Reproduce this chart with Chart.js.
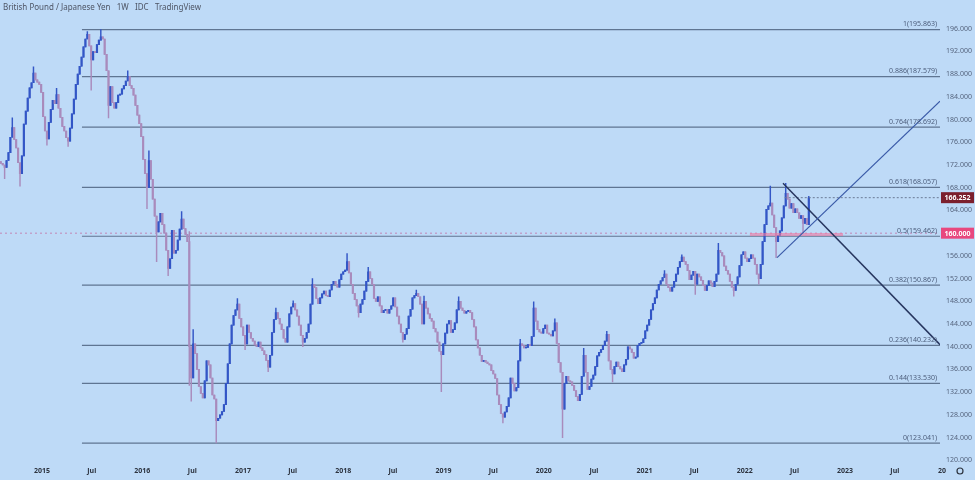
<!DOCTYPE html>
<html>
<head>
<meta charset="utf-8">
<script src="https://cdn.jsdelivr.net/npm/chart.js@4.4.0/dist/chart.umd.min.js"></script>
<style>
  html, body { margin: 0; padding: 0; background: #bedaf7; }
  #wrap { position: relative; width: 975px; height: 480px; background: #bedaf7; overflow: hidden; }
  #title {
    position: absolute; left: 3px; top: 1px;
    font: 8px "Noto Sans", sans-serif; color: #4e5565; white-space: pre;
  }
</style>
</head>
<body>
<div id="wrap">
  <canvas id="chart"></canvas>
  <div id="title">British Pound / Japanese Yen   1W   IDC   TradingView</div>
</div>
<script>
// GBP/JPY weekly, first bar = week of 2014-08-04
const START = Date.UTC(2014, 7, 4);
const firstOpen = 172.6;

// weekly closes (one per week)
const closes = [
  172.3, 172.0, 171.6, 172.8, 174.2, 176.9, 178.6, 176.5, 175.0, 172.4,
  170.5, 173.6, 179.2, 181.5, 183.8, 185.6, 186.5, 188.2, 187.0, 186.6,
  186.2, 184.8, 180.5, 178.0, 176.6, 179.5, 181.8, 183.4, 182.8, 184.4,
  182.0, 180.4, 178.8, 178.0, 176.8, 176.2, 178.5, 181.0, 183.6, 186.2,
  188.0, 189.4, 191.0, 192.8, 194.2, 195.0, 193.0, 190.5, 192.0, 191.8,
  193.2, 194.0, 194.6, 194.2, 191.5, 188.6, 182.5, 185.8, 183.0, 182.0,
  183.0, 184.3, 184.5, 185.4, 186.0, 186.8, 187.6, 186.0, 185.5, 184.3,
  182.5, 180.8, 179.3, 177.0, 173.0, 170.5, 168.0, 172.8, 169.5, 166.0,
  163.0, 160.2, 162.0, 163.5, 161.5, 160.0, 157.0, 153.8, 155.5, 160.5,
  156.5, 157.0, 158.8, 160.7, 162.5, 160.8, 159.8, 158.5, 140.0, 134.5,
  140.5, 138.8, 136.0, 133.0, 131.8, 131.0, 134.0, 137.5, 136.8, 134.5,
  131.5, 130.8, 127.0, 127.4, 128.0, 128.6, 129.8, 133.5, 137.0, 140.5,
  143.8, 145.5, 146.5, 147.5, 145.0, 143.5, 142.0, 140.5, 143.8, 142.5,
  141.5, 141.0, 140.3, 140.0, 140.8, 139.8, 139.3, 138.6, 137.6, 136.4,
  138.5, 142.5, 144.8, 146.0, 145.0, 144.0, 143.0, 141.5, 140.8, 143.5,
  145.8, 147.0, 147.6, 146.5, 145.4, 143.8, 142.0, 140.8, 141.5, 142.5,
  144.0, 147.5, 151.0, 150.4, 148.5, 147.6, 148.6, 149.3, 149.8, 149.0,
  148.8, 150.0, 151.0, 151.5, 151.0, 150.5, 151.8, 152.8, 153.2, 153.5,
  155.0, 153.0, 151.0, 149.4, 148.3, 147.2, 146.0, 147.5, 148.3, 149.8,
  151.5, 153.2, 152.0, 151.0, 148.5, 148.0, 148.8, 147.2, 146.0, 146.4,
  146.6, 145.9, 146.6, 147.2, 148.6, 147.0, 145.4, 144.0, 142.5, 141.3,
  142.2, 143.2, 145.4, 146.6, 148.6, 149.0, 149.4, 148.8, 147.5, 144.0,
  148.0, 146.8, 145.8, 145.0, 144.5, 143.2, 142.6, 140.8, 139.2, 138.6,
  140.5, 142.4, 144.0, 144.6, 142.5, 143.0, 144.2, 146.5, 148.0, 146.8,
  146.4, 145.9, 146.2, 146.4, 146.0, 144.8, 143.5, 141.2, 139.8, 138.5,
  137.4, 137.6, 137.3, 137.0, 136.8, 135.8, 135.2, 134.4, 131.5, 129.8,
  128.2, 127.6, 128.5, 129.5, 131.0, 134.5, 133.5, 132.2, 132.8, 137.5,
  140.5, 140.2, 139.8, 139.9, 140.4, 140.2, 141.8, 146.8, 144.5, 143.0,
  142.6, 142.4, 143.2, 143.8, 142.4, 142.2, 141.9, 142.8, 144.2, 140.6,
  137.2, 135.5, 129.0, 133.5, 134.8, 134.0, 133.8, 133.2, 132.3, 131.2,
  130.5, 131.6, 134.8, 138.5, 135.5, 132.5, 133.0, 134.3, 135.0, 136.5,
  138.4, 139.0, 139.5, 140.2, 141.0, 142.2, 137.5, 136.0, 135.2, 136.5,
  137.3, 136.5, 136.1, 135.6, 136.8, 137.8, 140.0, 139.6, 139.0, 138.0,
  138.2, 140.2, 140.6, 140.7, 141.4, 142.8, 143.8, 144.8, 146.5, 147.6,
  148.6, 150.0, 151.0, 151.6, 152.2, 152.8, 151.0, 150.4, 149.8, 150.5,
  151.5, 152.8, 154.0, 155.0, 155.8, 155.0, 154.5, 153.4, 151.8, 152.6,
  153.3, 151.0, 152.8, 152.3, 151.7, 150.8, 149.9, 150.8, 151.6, 151.2,
  150.6, 151.5, 152.8, 157.0, 156.6, 156.0, 154.2, 153.4, 152.8, 151.5,
  150.5, 149.9, 151.0, 152.3, 154.3, 156.2, 156.7, 155.6, 155.0, 155.5,
  156.2, 155.6, 154.5, 152.8, 152.0, 154.5, 158.5, 161.5, 164.2, 164.8,
  165.3, 163.2, 161.0, 158.5, 159.6, 160.4, 162.7, 164.8, 167.0, 166.0,
  164.4, 165.2, 163.6, 164.3, 163.6, 162.6, 163.1, 161.7, 162.6, 161.5,
  166.252
];

// visible wick extremes [week, price]
const wickHighs = [
  [6, 180.3], [17, 189.3], [29, 185.5], [45, 195.5], [52, 195.863], [66, 188.6],
  [77, 174.5], [94, 163.8], [98, 160.3], [100, 143.0], [123, 148.5], [143, 146.8],
  [152, 148.1], [162, 152.0], [180, 156.4], [191, 154.0], [216, 150.0], [220, 148.9],
  [238, 148.8], [270, 141.3], [277, 147.9], [288, 144.9], [303, 139.7], [315, 142.7],
  [345, 153.4], [354, 156.2], [373, 158.2], [400, 168.3], [408, 168.8], [420, 166.5]
];
const wickLows = [
  [2, 169.6], [10, 168.3], [24, 175.5], [35, 175.3], [47, 185.2], [56, 180.3],
  [76, 164.3], [81, 155.0], [87, 152.5], [98, 133.2], [99, 130.4], [112, 123.041],
  [127, 139.5], [139, 135.6], [157, 140.0], [186, 145.2], [209, 140.8], [229, 132.1],
  [261, 126.6], [292, 124.0], [318, 133.8], [361, 149.2], [381, 148.9], [394, 151.0],
  [403, 155.7], [417, 160.0]
];

const tickDates = [
  '2015-01-01', '2015-07-01', '2016-01-01', '2016-07-01', '2017-01-01', '2017-07-01',
  '2018-01-01', '2018-07-01', '2019-01-01', '2019-07-01', '2020-01-01', '2020-07-01',
  '2021-01-01', '2021-07-01', '2022-01-01', '2022-07-01', '2023-01-01', '2023-07-01'
];
const tickLabels = [
  '2015', 'Jul', '2016', 'Jul', '2017', 'Jul', '2018', 'Jul', '2019', 'Jul',
  '2020', 'Jul', '2021', 'Jul', '2022', 'Jul', '2023', 'Jul'
];

const fibRatios = ['1', '0.886', '0.764', '0.618', '0.5', '0.382', '0.236', '0.144', '0'];
const fibPrices = [195.863, 187.579, 178.692, 168.057, 159.462, 150.867, 140.232, 133.530, 123.041];
const fibStartWeek = 42.2;

// triangle drawn on the 2022 consolidation: [week, price]
const fallingLine = [[406.6, 168.8], [488.2, 140.37]];
const risingLine = [[403.5, 155.7], [488.2, 183.25]];
const lastPrice = 166.252;
const levelPrice = 160.000;
const zoneWeeks = [389.4, 437.8];
const zonePrice = 159.75;

const X_MIN = -0.4, X_MAX = 488.2;
const Y_MIN = 119.7, Y_MAX = 199.27;

const UP = '#3356c6';
const DOWN = '#a98bbc';
const FIB = '#5f7592';
const FONT = '"Noto Sans", sans-serif';

// ── Candles ───────────────────────────────────────────────────────────────

const weekOf = d => (Date.parse(d) - START) / (7 * 864e5);
const tickWeeks = tickDates.map(weekOf);

const opens = closes.map((c, i) => (i === 0 ? firstOpen : closes[i - 1]));
const hiMap = new Map(wickHighs);
const loMap = new Map(wickLows);

const bodies = closes.map((c, i) => ({ x: i, y: [opens[i], c] }));
const wicks = closes.map((c, i) => ({
  x: i,
  y: [Math.min(opens[i], c, loMap.get(i) ?? Infinity), Math.max(opens[i], c, hiMap.get(i) ?? -Infinity)],
}));
const candleColors = closes.map((c, i) => (c >= opens[i] ? UP : DOWN));

function segment(points, color, width, dash, order) {
  return {
    type: 'line',
    data: points.map(([x, y]) => ({ x, y })),
    borderColor: color,
    borderWidth: width,
    borderDash: dash || [],
    pointRadius: 0,
    fill: false,
    order,
  };
}

const datasets = [
  {
    type: 'bar', data: wicks, backgroundColor: candleColors, barThickness: 0.8,
    grouped: false, borderWidth: 0, order: 2,
  },
  {
    type: 'bar', data: bodies, backgroundColor: candleColors, barThickness: 1.5,
    grouped: false, borderWidth: 0, minBarLength: 1, order: 2,
  },
  segment([[X_MIN, levelPrice], [X_MAX, levelPrice]], 'rgba(196,120,170,0.85)', 1, [2, 3], 3),
  ...fibPrices.map(p => segment([[fibStartWeek, p], [X_MAX, p]], FIB, 1.2, null, 3)),
  segment([[zoneWeeks[0], zonePrice], [zoneWeeks[1], zonePrice]], 'rgba(240,118,160,0.6)', 3, null, 1),
  segment([[407.5, lastPrice], [X_MAX, lastPrice]], '#6b7b96', 1, [2, 2], 1),
  segment(risingLine, '#3a5aa8', 1.2, null, 0),
  segment(fallingLine, '#27365f', 1.5, null, 0),
];

// ── Labels drawn over the chart ───────────────────────────────────────────

function priceTag(ctx, y, price, color) {
  const py = y.getPixelForValue(price);
  ctx.fillStyle = color;
  ctx.fillRect(941, py - 5.5, 33, 11);
  ctx.fillStyle = '#ffffff';
  ctx.font = `bold 7px ${FONT}`;
  ctx.textAlign = 'center';
  ctx.textBaseline = 'middle';
  ctx.fillText(price.toFixed(3), 957.5, py + 0.5);
}

const overlay = {
  id: 'overlay',
  afterDatasetsDraw(chart) {
    const { ctx, chartArea, scales: { y } } = chart;
    ctx.save();
    ctx.font = `7px ${FONT}`;
    ctx.fillStyle = '#4d5e7c';
    ctx.textAlign = 'right';
    ctx.textBaseline = 'bottom';
    fibPrices.forEach((p, i) => {
      ctx.fillText(`${fibRatios[i]}(${p.toFixed(3)})`, chartArea.right - 3, y.getPixelForValue(p) - 2);
    });
    ctx.restore();
  },
  afterDraw(chart) {
    const { ctx, chartArea, scales: { y } } = chart;
    ctx.save();
    priceTag(ctx, y, lastPrice, '#7b1f2d');
    priceTag(ctx, y, levelPrice, '#e8487e');
    ctx.fillStyle = '#2d3440';
    ctx.font = `bold 7px ${FONT}`;
    ctx.textAlign = 'center';
    ctx.textBaseline = 'middle';
    ctx.fillText('20', chartArea.right + 2, 471);
    ctx.strokeStyle = '#2d3440';
    ctx.lineWidth = 1.2;
    ctx.beginPath();
    ctx.arc(960, 471, 3, 0, Math.PI * 2);
    ctx.stroke();
    ctx.restore();
  },
};

// ── Chart ─────────────────────────────────────────────────────────────────

new Chart(document.getElementById('chart'), {
  type: 'bar',
  data: { datasets },
  plugins: [overlay],
  options: {
    responsive: true,
    maintainAspectRatio: false,
    animation: false,
    layout: { padding: 0 },
    plugins: { legend: { display: false }, tooltip: { enabled: false } },
    scales: {
      x: {
        type: 'linear',
        min: X_MIN,
        max: X_MAX,
        offset: false,
        grid: { display: false, drawTicks: false, offset: false },
        border: { display: false },
        afterBuildTicks: s => { s.ticks = tickWeeks.map(v => ({ value: v })); },
        afterFit: s => { s.height = 18; },
        ticks: {
          autoSkip: false,
          maxRotation: 0,
          padding: 5,
          color: '#2d3440',
          font: { family: FONT, size: 7, weight: 'bold' },
          callback: (v, i) => tickLabels[i],
        },
      },
      y: {
        type: 'linear',
        position: 'right',
        min: Y_MIN,
        max: Y_MAX,
        grid: { display: false, drawTicks: false },
        border: { display: false },
        afterFit: s => { s.width = 35; },
        ticks: {
          stepSize: 4,
          includeBounds: false,
          padding: 6,
          color: '#56657f',
          font: { family: FONT, size: 7 },
          callback: v => v.toFixed(3),
        },
      },
    },
  },
});
</script>
</body>
</html>
